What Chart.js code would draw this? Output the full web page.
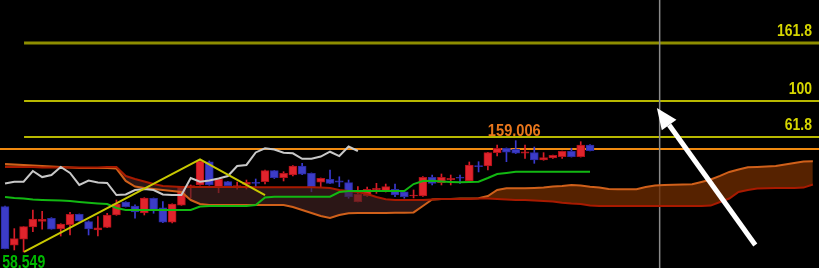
<!DOCTYPE html>
<html><head><meta charset="utf-8">
<script src="https://cdn.jsdelivr.net/npm/chart.js@4"></script>
<style>html,body{margin:0;padding:0;background:#000;overflow:hidden}
#wrap{width:819px;height:268px;position:relative;background:#000}</style>
</head><body><div id="wrap"><canvas id="c"></canvas></div>
<script>
// ---- candle data (index = bar number) ----
const open = [102.7,65.1,70.9,82.9,88.4,91.4,81.0,85.1,95.3,88.1,
  80.0,82.6,94.6,107.3,103.4,96.6,110.9,101.7,87.5,104.3,
  122.2,123.9,146.5,122.2,127.1,122.2,124.5,126.5,127.1,137.8,
  131.0,133.6,142.4,135.3,126.5,129.4,128.0,126.1,107.6,113.1,
  119.0,117.3,119.7,117.3,113.1,113.1,131.4,126.1,128.7,131.4,
  127.8,142.7,142.4,155.4,159.7,158.7,154.8,155.4,148.3,150.2,
  151.4,156.7,151.4,162.9];
const high = [103.4,81.3,83.2,99.5,98.2,92.0,86.1,97.2,95.6,88.8,
  93.0,96.3,109.2,107.6,104.4,111.5,111.2,107.6,105.6,122.5,
  123.9,148.9,147.3,130.0,127.4,126.8,128.7,129.7,138.5,138.1,
  136.8,142.7,145.0,135.6,130.7,138.5,131.9,128.7,122.2,121.9,
  125.5,124.8,124.8,117.6,119.0,132.0,133.6,134.6,133.6,133.6,
  146.3,146.6,155.7,162.9,160.0,167.1,162.9,160.9,155.4,153.1,
  157.0,159.7,166.1,163.2];
const low = [61.4,60.5,58.549,78.3,80.7,80.7,74.1,75.1,88.5,75.1,
  74.1,82.3,94.3,102.4,91.4,94.6,96.3,87.2,86.8,104.0,
  111.2,123.6,123.6,116.3,122.9,119.9,119.9,122.2,124.8,130.2,
  127.8,132.6,134.0,117.3,121.6,125.2,122.2,110.9,107.3,112.8,
  115.7,117.0,112.4,110.9,111.2,112.8,123.9,123.9,123.9,125.5,
  127.1,136.6,138.5,152.1,146.6,154.5,149.9,145.0,148.0,149.9,
  149.9,151.1,151.1,157.0];
const close = [61.7,71.5,83.2,90.7,90.4,80.7,85.8,95.3,88.8,81.0,
  82.2,94.6,105.6,102.7,97.5,111.2,99.5,87.5,105.3,122.2,
  123.2,147.3,123.9,129.7,123.2,123.2,126.5,125.5,137.8,131.0,
  135.3,142.4,134.3,122.2,130.4,125.5,126.5,112.4,114.8,119.7,
  120.7,122.2,114.1,112.4,114.1,131.4,125.5,131.4,130.4,130.4,
  143.4,141.7,155.4,159.6,155.8,154.8,156.3,148.3,150.7,152.8,
  156.7,151.4,162.9,157.3];
// ---- indicator lines ----
const lagging = [125.3,127.1,127.1,137.5,131.6,133.6,141.4,135.6,123.9,128.2,
  126.3,125.8,114.1,114.6,119.0,120.0,119.0,114.6,114.1,114.1,
  130.7,127.1,128.2,130.2,132.6,142.4,143.4,155.6,159.7,158.5,
  155.4,154.8,149.4,149.5,151.6,156.3,152.1,161.4,157.0];
const baseLine = [112.2,111.2,110.7,109.7,109.2,108.9,108.7,108.3,107.3,106.5,
  105.8,105.3,101.4,99.5,99.5,99.5,99.5,99.5,99.5,99.5,
  99.5,102.9,103.4,103.4,103.4,103.4,103.4,104.3,111.7,112.4,
  112.4,112.4,112.4,112.4,112.4,112.4,117.0,118.0,118.0,118.0,
  118.0,118.0,118.0,118.0,124.8,127.8,128.0,127.3,126.8,126.5,
  126.8,127.1,130.7,134.6,135.6,136.8,136.8,136.8,136.8,136.8,
  136.8,136.8,136.8,136.8];
const spanA = [144.3,143.8,143.3,142.9,142.4,141.9,141.4,140.9,140.4,140.4,
  140.4,140.4,139.9,127.8,122.4,120.9,120.0,119.0,118.0,117.0,
  109.2,105.3,104.3,104.3,104.3,104.3,104.3,104.3,104.3,104.3,
  104.3,102.4,99.5,96.6,93.6,91.7,94.6,96.3,96.6,96.6,
  96.6,96.6,96.9,96.9,97.1,103.4,109.7,110.2,110.2,110.7,
  110.7,110.9,113.1,119.0,120.7,120.7,120.7,121.0,121.5,122.4,
  122.9,123.9,123.4,122.2,121.5,120.0,119.7,119.7,119.7,121.9,
  123.4,123.9,124.2,124.4,124.6,126.8,129.2,132.7,136.6,139.0,
  141.1,141.4,141.9,142.4,143.8,145.3,146.8,147.0];
const spanB = [141.4,141.4,141.4,141.4,140.9,140.9,140.9,140.9,140.9,140.9,
  140.9,141.4,141.4,132.6,129.7,127.3,124.8,122.9,122.4,121.9,
  121.9,121.9,121.9,121.9,121.9,121.9,121.9,121.6,121.6,121.6,
  121.6,121.6,121.6,121.6,121.4,120.9,119.0,118.0,117.0,115.1,
  112.2,109.9,109.2,109.2,109.2,109.2,109.7,110.2,110.2,110.2,
  110.2,110.7,110.7,110.2,109.7,109.2,109.2,108.7,108.2,107.8,
  106.6,105.8,105.3,103.8,103.4,103.4,103.4,103.4,103.4,103.4,
  103.4,103.4,103.4,103.4,103.4,103.4,103.8,107.3,110.7,117.0,
  119.0,120.4,120.7,121.0,121.0,121.0,121.3,124.4];
// ---- drawing objects ----
const zigzagX = [2.05, 21, 28];
const zigzagY = [58.549, 148.9, 114.1];
const fibLabels = ['161.8', '100', '61.8'];
const fibPrices = [262.4, 205.8, 170.7];
const levelPrice = 159.006;
const levelLabel = '159.006';
const levelLabelAt = [52.0, 171.9];
const lowLabel = '58.549';
const lowLabelAt = [-0.3, 57.6];
const cursorX = 70.5;
const arrowTail = [80.8, 65.3];
const arrowTip = [70.2, 199.0];
const X_MIN = -0.54, X_MAX = 87.66, Y_MIN = 42.9, Y_MAX = 304.3;

const pts = (arr, start) => arr.map((v, i) => ({x: i + (start || 0), y: v}));
const isUp = i => close[i] >= open[i];
const bodyData = open.map((o, i) => ({x: i, y: [Math.min(o, close[i]), Math.max(o, close[i])]}));
const wickData = high.map((h, i) => ({x: i, y: [low[i], h]}));
const hLine = (p, x0) => [{x: x0, y: p}, {x: X_MAX, y: p}];
const lineDs = (data, color, width, order, extra) => Object.assign({
  type: 'line', data, borderColor: color, borderWidth: width, pointRadius: 0,
  tension: 0, fill: false, order
}, extra || {});

const FONT = "'Liberation Sans', Arial, sans-serif";
function narrowText(ctx, t, px, py, align, baseline, size, sx, color) {
  ctx.save();
  ctx.translate(px, py);
  ctx.scale(sx, 1);
  ctx.font = 'bold ' + size + 'px ' + FONT;
  ctx.textAlign = align; ctx.textBaseline = baseline;
  ctx.fillStyle = color;
  ctx.fillText(t, 0, 0);
  ctx.restore();
}

const overlay = {
  id: 'overlay',
  afterDatasetsDraw(chart) {
    const {ctx, scales: {x, y}} = chart;
    ctx.save();
    // arrow
    const tx = x.getPixelForValue(arrowTail[0]), ty = y.getPixelForValue(arrowTail[1]);
    const hx = x.getPixelForValue(arrowTip[0]), hy = y.getPixelForValue(arrowTip[1]);
    const ang = Math.atan2(hy - ty, hx - tx);
    const headLen = 21, headW = 9;
    const bx = hx - headLen * Math.cos(ang), by = hy - headLen * Math.sin(ang);
    ctx.strokeStyle = '#fff'; ctx.fillStyle = '#fff'; ctx.lineWidth = 5;
    ctx.beginPath(); ctx.moveTo(tx, ty); ctx.lineTo(bx, by); ctx.stroke();
    ctx.beginPath();
    ctx.moveTo(hx, hy);
    ctx.lineTo(bx + headW * Math.sin(ang), by - headW * Math.cos(ang));
    ctx.lineTo(bx - headW * Math.sin(ang), by + headW * Math.cos(ang));
    ctx.closePath(); ctx.fill();
    ctx.restore();
    // fib labels
    const rx = chart.chartArea.right - 7;
    fibLabels.forEach((t, i) => narrowText(ctx, t, rx, y.getPixelForValue(fibPrices[i]) - 6.5,
      'right', 'alphabetic', 17, 0.82, '#d6d600'));
    // level label
    narrowText(ctx, levelLabel, x.getPixelForValue(levelLabelAt[0]), y.getPixelForValue(levelLabelAt[1]),
      'left', 'alphabetic', 17, 0.86, '#e8761c');
    // low label
    narrowText(ctx, lowLabel, x.getPixelForValue(lowLabelAt[0]), y.getPixelForValue(lowLabelAt[1]),
      'left', 'top', 19, 0.74, '#00b800');
  }
};

new Chart(document.getElementById('c'), {
  type: 'bar',
  data: {
    datasets: [
      lineDs(hLine(fibPrices[0], zigzagX[0]), '#8e8e00', 3, 20),
      lineDs(hLine(fibPrices[1], zigzagX[0]), '#b8b800', 2, 19),
      lineDs(hLine(fibPrices[2], zigzagX[0]), '#b8b800', 2, 18),
      lineDs(hLine(levelPrice, X_MIN), '#f08a10', 2, 17),
      lineDs([{x: cursorX, y: Y_MIN}, {x: cursorX, y: Y_MAX}], '#8a8a8a', 1.5, 16),
      {type: 'bar', data: wickData, grouped: false, barThickness: 1, order: 12,
        backgroundColor: c => isUp(c.dataIndex) ? '#d81e28' : '#3a3ad0'},
      {type: 'bar', data: bodyData, grouped: false, barThickness: 8, order: 11,
        borderWidth: 1, borderSkipped: false,
        backgroundColor: c => isUp(c.dataIndex) ? '#e0242c' : '#3c3cc8',
        borderColor: c => isUp(c.dataIndex) ? '#b01018' : '#2a2aa0'},
      lineDs(pts(spanB), '#a81a00', 2, 6),
      lineDs(pts(spanA), '#d0601a', 2, 7, {fill: {target: 7, above: 'rgba(110,44,0,0.78)', below: 'rgba(70,36,36,0.62)'}}),
      lineDs(pts(baseLine), '#12b812', 2, 4),
      lineDs(pts(lagging), '#c8c8c8', 2, 3),
      lineDs(zigzagX.map((v, i) => ({x: v, y: zigzagY[i]})), '#c8c800', 2, 2)
    ]
  },
  options: {
    responsive: true, maintainAspectRatio: false, animation: false,
    layout: {padding: 0},
    plugins: {legend: {display: false}, tooltip: {enabled: false}},
    scales: {
      x: {type: 'linear', min: X_MIN, max: X_MAX, display: false, offset: false},
      y: {type: 'linear', min: Y_MIN, max: Y_MAX, display: false}
    }
  },
  plugins: [overlay]
});
</script></body></html>
